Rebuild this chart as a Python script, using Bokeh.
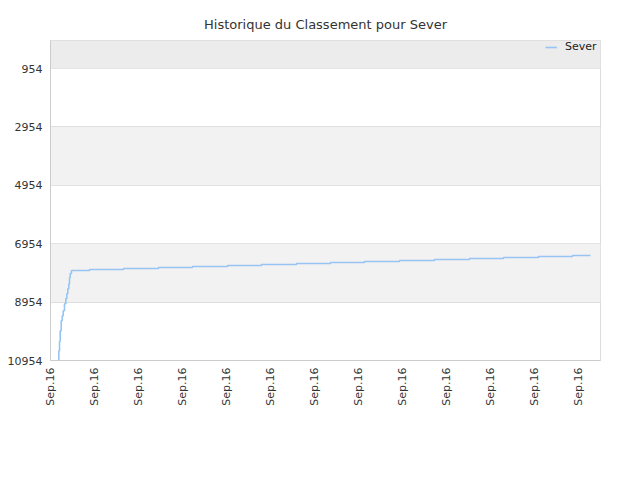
import math
from bokeh.plotting import figure
from bokeh.models import Range1d, FixedTicker, BoxAnnotation, Legend, LegendItem
from bokeh.embed import file_html
from bokeh.resources import INLINE

# Data (x in tick-interval units, y = ranking)
x_vals = [0.175, 0.189, 0.205, 0.220, 0.243, 0.266, 0.289, 0.318, 0.348, 0.370,
          0.393, 0.416, 0.432, 0.448, 0.477, 0.886, 1.659, 2.455, 3.227, 4.023,
          4.795, 5.591, 6.364, 7.136, 7.932, 8.727, 9.523, 10.295, 11.091, 11.864,
          12.273]
rank_vals = [10954, 10624, 10305, 9938, 9595, 9424, 9252, 9012, 8841, 8669,
             8498, 8326, 8121, 7973, 7870, 7836, 7802, 7768, 7733, 7699,
             7665, 7630, 7596, 7562, 7528, 7493, 7459, 7425, 7390, 7356,
             7356]
x_ticks = list(range(13))
x_tick_labels = ["Sep.16"] * 13
y_ticks = [954, 2954, 4954, 6954, 8954, 10954]
y_tick_labels = [str(v) for v in y_ticks]
series_name = "Sever"
title_text = "Historique du Classement pour Sever"

FONT = "DejaVu Sans"

p = figure(width=632, height=472, output_backend="svg", toolbar_location=None,
           x_range=Range1d(0, 12.5), y_range=Range1d(10954, -6),
           min_border_left=50, min_border_right=32, min_border_top=40, min_border_bottom=112)

p.title.text = title_text
p.title.align = "center"
p.title.text_font = FONT
p.title.text_font_size = "13px"
p.title.text_font_style = "normal"
p.title.text_color = "#333333"
p.title.standoff = 18

p.background_fill_color = "white"
p.border_fill_color = "white"
p.outline_line_color = "#dcdcdc"

# alternating bands
p.add_layout(BoxAnnotation(top=-6, bottom=954, fill_color="#ececec", fill_alpha=1, line_alpha=0, level="underlay"))
p.add_layout(BoxAnnotation(top=2954, bottom=4954, fill_color="#f2f2f2", fill_alpha=1, line_alpha=0, level="underlay"))
p.add_layout(BoxAnnotation(top=6954, bottom=8954, fill_color="#f2f2f2", fill_alpha=1, line_alpha=0, level="underlay"))

r = p.step(x_vals, rank_vals, mode="after", line_color="#97c4f2", line_width=1.6)

p.xgrid.grid_line_color = None
p.ygrid.grid_line_color = "#dedede"
p.ygrid.ticker = FixedTicker(ticks=y_ticks)

p.yaxis.ticker = FixedTicker(ticks=y_ticks)
p.yaxis.major_label_overrides = {v: l for v, l in zip(y_ticks, y_tick_labels)}
p.xaxis.ticker = FixedTicker(ticks=x_ticks)
p.xaxis.major_label_overrides = {v: l for v, l in zip(x_ticks, x_tick_labels)}
p.xaxis.major_label_orientation = math.pi / 2

for ax in (p.xaxis[0], p.yaxis[0]):
    ax.axis_line_color = "#cccccc"
    ax.major_tick_line_color = None
    ax.minor_tick_line_color = None
    ax.major_label_text_font = FONT
    ax.major_label_text_font_size = "11px"
    ax.major_label_text_color = "#333333"
p.xaxis.major_label_standoff = 1
p.yaxis.major_label_standoff = 2

legend = Legend(items=[LegendItem(label=series_name, renderers=[r])],
                location=(493, 305), orientation="horizontal",
                background_fill_alpha=0, border_line_alpha=0,
                label_text_font=FONT, label_text_font_size="11px", label_text_color="#222222",
                glyph_width=12, glyph_height=12, label_height=12, padding=2, margin=0, spacing=0,
                label_standoff=8)
p.add_layout(legend, "center")

open("out.html", "w").write(file_html(p, INLINE))
